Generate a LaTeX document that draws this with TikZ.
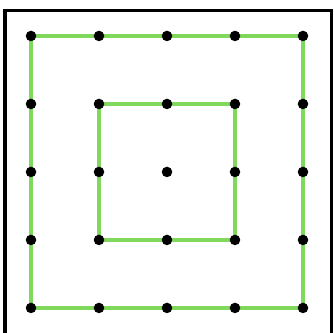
\documentclass[tikz,border=0pt]{standalone}
\usetikzlibrary{backgrounds}
\definecolor{linegreen}{RGB}{128,217,92}
\begin{document}
\begin{tikzpicture}
[
	dot/.style={circle,fill,inner sep=0pt,minimum size=0.155cm},
	square/.style={line width=2pt,linegreen},
	frame/.style={line width=1.3pt}
]

	% canvas
	\useasboundingbox (-0.456,-0.368) rectangle (4.456,4.529);
	\clip (-0.456,-0.368) rectangle (4.456,4.529);
	\draw[frame] (-0.382,-1) rectangle (4.419,4.375);

	% dots
	\foreach \x in {0,...,4} {
		\foreach \y in {0,...,4} {
			\node[dot] (p\x\y) at (\x,\y) {};
		}
	}

	% squares
	\begin{scope}[on background layer]
		\draw[square] (p00.center) -- (p40.center) -- (p44.center) -- (p04.center) -- cycle;
		\draw[square] (p11.center) -- (p31.center) -- (p33.center) -- (p13.center) -- cycle;
	\end{scope}

\end{tikzpicture}
\end{document}
